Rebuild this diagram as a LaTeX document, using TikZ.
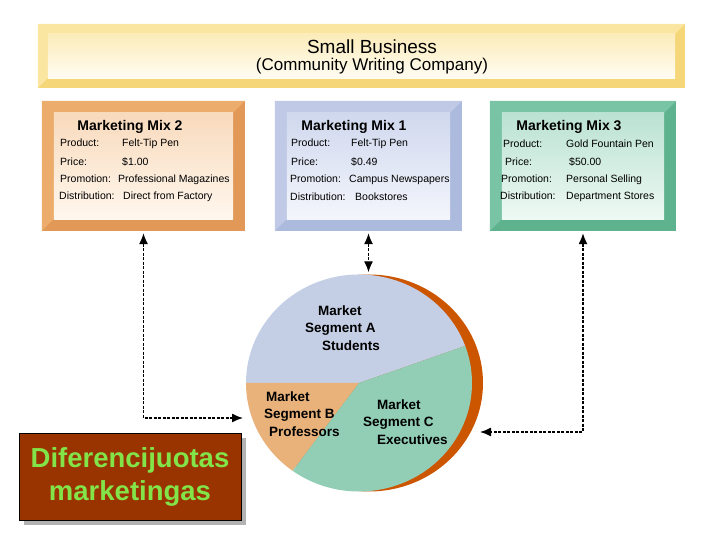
\documentclass[tikz,border=0pt]{standalone}
\usepackage{fontspec}
\setmainfont{Liberation Sans}
\usetikzlibrary{arrows.meta,positioning,calc,shapes.geometric,shadows}

\definecolor{bizlight}{RGB}{250,230,160}
\definecolor{bizdark}{RGB}{245,214,120}
\definecolor{biztop}{RGB}{252,236,186}
\definecolor{bizbot}{RGB}{255,252,242}
\definecolor{orlight}{RGB}{236,172,108}
\definecolor{ordark}{RGB}{226,152,86}
\definecolor{ortop}{RGB}{248,218,188}
\definecolor{orbot}{RGB}{255,247,238}
\definecolor{bllight}{RGB}{192,202,230}
\definecolor{bldark}{RGB}{172,186,222}
\definecolor{bltop}{RGB}{208,216,238}
\definecolor{blbot}{RGB}{244,246,252}
\definecolor{grlight}{RGB}{120,196,164}
\definecolor{grdark}{RGB}{94,178,142}
\definecolor{grtop}{RGB}{186,226,210}
\definecolor{grbot}{RGB}{238,249,244}
\definecolor{segA}{RGB}{196,206,228}
\definecolor{segB}{RGB}{232,178,122}
\definecolor{segC}{RGB}{146,206,182}
\definecolor{rim}{RGB}{204,85,0}
\definecolor{brick}{RGB}{153,51,0}
\definecolor{lime}{RGB}{130,228,72}

% bevelled panel drawn over a named node: node, bevel, light, dark, face top, face bottom
\newcommand{\bevel}[6]{%
  \fill[#4] (#1.south west) rectangle (#1.north east);
  \fill[#3] (#1.south west) -- (#1.north west) -- (#1.north east)
    -- ($(#1.north east)+(-#2,-#2)$) -- ($(#1.north west)+(#2,-#2)$)
    -- ($(#1.south west)+(#2,#2)$) -- cycle;
  \shade[top color=#5, bottom color=#6]
    ($(#1.south west)+(#2,#2)$) rectangle ($(#1.north east)+(-#2,-#2)$);
}

\begin{document}
\begin{tikzpicture}[x=1pt, y=1pt,
  panel/.style={rectangle, inner sep=0pt, minimum height=130pt},
  mixtitle/.style={inner sep=0pt, font=\fontsize{14}{16}\selectfont\bfseries},
  row/.style={anchor=west, inner sep=0pt, font=\fontsize{10.5}{12}\selectfont},
  segtext/.style={anchor=west, inner sep=0pt, align=left, font=\fontsize{13.5}{17.5}\selectfont\bfseries},
  link/.style={line width=1.3pt, dash pattern=on 3pt off 1.5pt,
    {Latex[length=11pt,width=9pt]}-{Latex[length=11pt,width=9pt]}},
  difbox/.style={fill=brick, draw=black, line width=0.8pt, minimum width=222pt, minimum height=87pt,
    text=lime, align=center, font=\fontsize{27.5}{33}\selectfont\bfseries,
    drop shadow={shadow xshift=5pt, shadow yshift=-5pt, fill=black!30, opacity=1}}
]
\useasboundingbox (0,0) rectangle (720,540);

% banner
\node[rectangle, inner sep=0pt, minimum width=647pt, minimum height=64pt] (biz) at (361.5,484) {};
\bevel{biz}{10}{bizlight}{bizdark}{biztop}{bizbot}
\node[inner sep=0pt, font=\fontsize{19}{22}\selectfont] (bizname) at (372,493) {Small Business};
\node[inner sep=0pt, font=\fontsize{17}{20}\selectfont] (bizsub) at (372,474) {(Community Writing Company)};

% marketing mixes
\node[panel, minimum width=203pt] (mix2) at (143.5,374) {};
\node[panel, minimum width=187pt] (mix1) at (368.5,374) {};
\node[panel, minimum width=186pt] (mix3) at (583,374) {};
\bevel{mix2}{12}{orlight}{ordark}{ortop}{orbot}
\bevel{mix1}{12}{bllight}{bldark}{bltop}{blbot}
\bevel{mix3}{12}{grlight}{grdark}{grtop}{grbot}

\node[mixtitle] (m2title) at (130,413) {Marketing Mix 2};
\node[row] (m2prod) at (60,396) {\makebox[62pt][l]{Product:}Felt-Tip Pen};
\node[row] (m2price) at (60,378) {\makebox[62pt][l]{Price:}\$1.00};
\node[row] (m2promo) at (60,360) {\makebox[58pt][l]{Promotion:}Professional Magazines};
\node[row] (m2dist) at (59,343) {\makebox[64pt][l]{Distribution:}Direct from Factory};

\node[mixtitle] (m1title) at (354,413) {Marketing Mix 1};
\node[row] (m1prod) at (291,396) {\makebox[60pt][l]{Product:}Felt-Tip Pen};
\node[row] (m1price) at (291,378) {\makebox[60pt][l]{Price:}\$0.49};
\node[row] (m1promo) at (290,360) {\makebox[59pt][l]{Promotion:}Campus Newspapers};
\node[row] (m1dist) at (290,343) {\makebox[65pt][l]{Distribution:}Bookstores};

\node[mixtitle] (m3title) at (569,413) {Marketing Mix 3};
\node[row] (m3prod) at (503,396) {\makebox[63pt][l]{Product:}Gold Fountain Pen};
\node[row] (m3price) at (505,378) {\makebox[64pt][l]{Price:}\$50.00};
\node[row] (m3promo) at (501,360) {\makebox[65pt][l]{Promotion:}Personal Selling};
\node[row] (m3dist) at (500,343) {\makebox[66pt][l]{Distribution:}Department Stores};

% market pie
\fill[rim] (369,157) ellipse [x radius=114pt, y radius=108.5pt];
\fill[segA] (359,157) -- ++(20:113pt and 108.5pt)
  arc[start angle=20, end angle=180, x radius=113pt, y radius=108.5pt] -- cycle;
\fill[segB] (359,157) -- ++(180:113pt and 108.5pt)
  arc[start angle=180, end angle=234, x radius=113pt, y radius=108.5pt] -- cycle;
\fill[segC] (359,157) -- ++(234:113pt and 108.5pt)
  arc[start angle=234, end angle=380, x radius=113pt, y radius=108.5pt] -- cycle;
\node[ellipse, inner sep=0pt, minimum width=226pt, minimum height=217pt] (mkt) at (359,157) {};

\node[segtext] (segAtext) at (305,212) {\hspace*{13pt}Market\\Segment A\\\hspace*{17pt}Students};
\node[segtext] (segBtext) at (264,126) {\hspace*{2pt}Market\\Segment B\\\hspace*{5pt}Professors};
\node[segtext] (segCtext) at (363,118) {\hspace*{14pt}Market\\Segment C\\\hspace*{14pt}Executives};

% connectors
\coordinate (toB) at (243,122);
\coordinate (toC) at (480,108);
\draw[link, shorten <=2pt] (mix2.south) |- (toB);
\draw[link, shorten <=2pt, shorten >=2pt] (mix1.south) -- (mix1.south |- mkt.north);
\draw[link, shorten <=2pt] (mix3.south) |- (toC);

% label
\node[difbox] (diff) at (130,63.5) {Diferencijuotas\\marketingas};
\end{tikzpicture}
\end{document}
